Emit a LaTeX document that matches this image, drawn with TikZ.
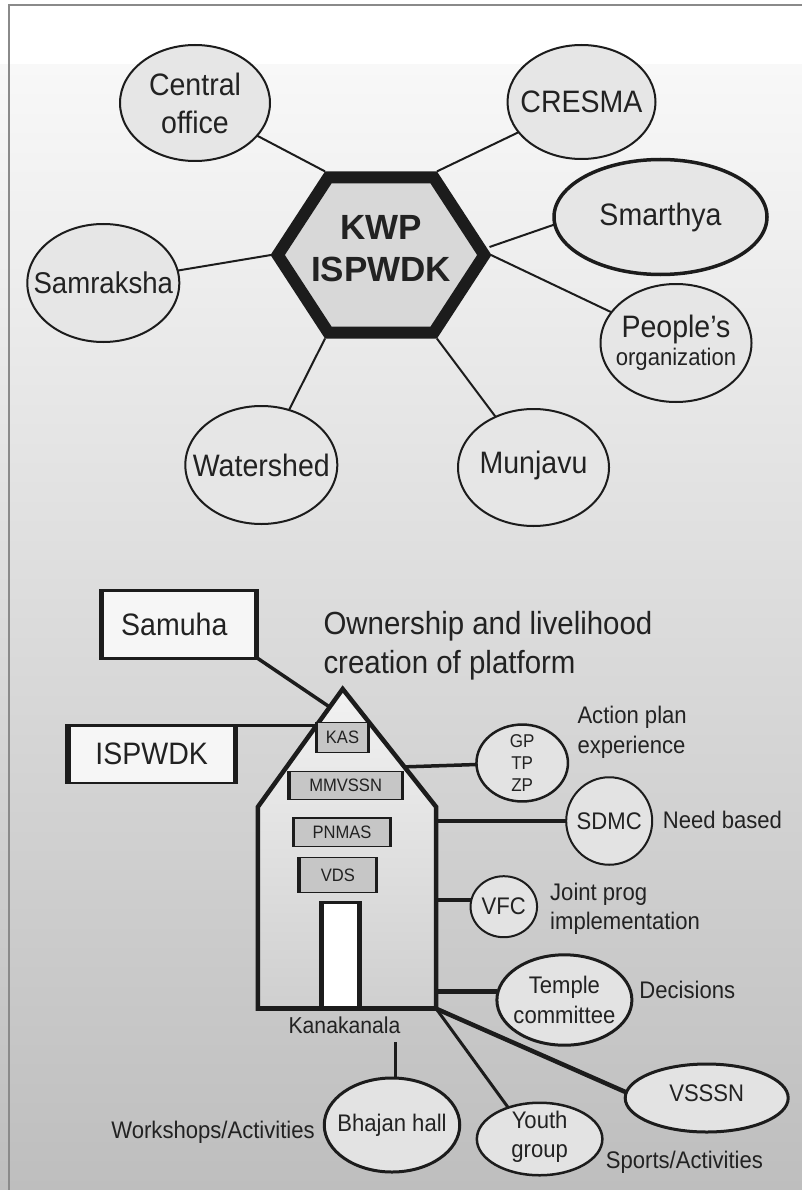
\documentclass[tikz,border=0pt]{standalone}
\usepackage{fontspec}
\setmainfont{Liberation Sans}[FakeStretch=0.92]
\newfontfamily\hexfont{Liberation Sans}
\usetikzlibrary{shapes.geometric,calc}
\newcommand\myfs[2]{\fontsize{#1}{#2}\selectfont}
\definecolor{linec}{HTML}{1C1C1C}
\definecolor{txtc}{HTML}{222222}
\definecolor{bgtop}{HTML}{F8F8F8}
\definecolor{bgbot}{HTML}{BEBEBE}
\definecolor{bubup}{HTML}{E6E6E6}
\definecolor{hexfill}{HTML}{D8D8D8}
\definecolor{bublo}{HTML}{E3E3E3}
\definecolor{boxfill}{HTML}{C6C6C6}
\definecolor{housetop}{HTML}{F2F2F2}
\definecolor{housebot}{HTML}{CFCFCF}
\definecolor{framec}{HTML}{8A8A8A}
\definecolor{tagfill}{HTML}{F6F6F6}
\pgfdeclarelayer{bg}
\pgfsetlayers{bg,main}
\begin{document}
\begin{tikzpicture}[x=1pt,y=-1pt,
  bubU/.style={ellipse, draw=linec, line width=2pt, fill=bubup, inner sep=0pt, outer sep=0pt},
  bubL/.style={ellipse, draw=linec, line width=2.5pt, fill=bublo, inner sep=0pt, outer sep=0pt},
  lblU/.style={inner sep=0pt, align=center, text=txtc, font=\myfs{31}{38}},
  lblL/.style={inner sep=0pt, align=center, text=txtc, font=\myfs{24}{29}},
  note/.style={inner sep=0pt, align=left, text=txtc, font=\myfs{24}{29}},
  connU/.style={draw=linec, line width=2pt},
  inbox/.style={rectangle, draw=linec, line width=1.5pt, fill=boxfill, inner sep=0pt, outer sep=0pt, text=txtc, font=\myfs{18}{18}},
  tag/.style={rectangle, draw=linec, line width=2.5pt, fill=tagfill, inner sep=0pt, outer sep=0pt, text=txtc, font=\myfs{31}{31}},
  side/.style={draw=linec, line width=#1},
  side/.default=5pt]
\useasboundingbox (0,0) rectangle (802,1190);
% background
\begin{pgfonlayer}{bg}
\fill[white] (0,0) rectangle (802,65);
\shade[top color=bgtop, bottom color=bgbot] (0,65) rectangle (802,1190);
\draw[framec, line width=2pt] (9,1195) -- (9,5) -- (806,5);
\end{pgfonlayer}
% coordinates
\coordinate (hTL) at (325,171.4);
\coordinate (hTR) at (437,171.4);
\coordinate (hR) at (491,255);
\coordinate (hRs) at (489.5,247);
\coordinate (hBR) at (437,338.6);
\coordinate (hBL) at (325,338.6);
\coordinate (hL) at (271,255);
\coordinate (hA) at (342.7,689);
\coordinate (hER) at (436.2,807);
\coordinate (hFR) at (436.2,1008.7);
\coordinate (hFL) at (257.8,1008.7);
\coordinate (hEL) at (257.8,807);
\coordinate (rS) at ($(hA)!0.153!(hEL)$);
\coordinate (rI) at (316.5,725.25);
\coordinate (rG) at ($(hA)!0.66!(hER)$);
\coordinate (wV) at (436.2,900);
\coordinate (wT) at (436.2,991.7);
\coordinate (kB) at (395,1042);
% hub
\draw[draw=linec, line width=12pt, line join=miter, fill=hexfill]
  (328.3,177.4) -- (433.7,177.4) -- (484.3,255) -- (433.7,332.6) -- (328.3,332.6) -- (277.7,255) -- cycle;
\node[font=\hexfont\bfseries\myfs{35}{42}, align=center, inner sep=0pt, text=txtc] (hub) at (381,248.5) {KWP\\ISPWDK};
% upper bubbles
\node[bubU, minimum width=150pt, minimum height=116pt, label={[lblU]center:{Central\\office}}] (co) at (195,103) {};
\node[bubU, minimum width=148pt, minimum height=114pt, label={[lblU]center:CRESMA}] (cr) at (581.5,102) {};
\node[bubU, line width=3.5pt, minimum width=213pt, minimum height=115pt, label={[lblU]center:Smarthya}] (sm) at (660.5,217) {};
\node[bubU, minimum width=152pt, minimum height=118pt, label={[lblU, font=\myfs{30}{38}]center:Samraksha}] (sa) at (103.3,283) {};
\node[bubU, minimum width=151pt, minimum height=118pt, label={[lblU, font=\myfs{31}{28.5}]center:{People's\\{\myfs{24}{28.5}organization}}}] (po) at (676,343) {};
\node[bubU, minimum width=152pt, minimum height=118pt, label={[lblU]center:Watershed}] (ws) at (261.3,465) {};
\node[bubU, minimum width=151pt, minimum height=117pt, label={[lblU, yshift=2pt]center:Munjavu}] (mu) at (533.5,467.5) {};
% tags
\node[tag, minimum width=157.5pt, minimum height=68pt] (sam) at (179.3,624.6) {\hspace*{-10pt}Samuha};
\draw[side] ([xshift=1.25pt]sam.north west) -- ([xshift=1.25pt]sam.south west);
\draw[side] ([xshift=-1.25pt]sam.north east) -- ([xshift=-1.25pt]sam.south east);
\node[tag, minimum width=170.8pt, minimum height=57.5pt] (isp) at (151.65,754) {ISPWDK};
\draw[side=5.5pt] ([xshift=1.5pt]isp.north west) -- ([xshift=1.5pt]isp.south west);
\draw[side=5.5pt] ([xshift=-1.5pt]isp.north east) -- ([xshift=-1.5pt]isp.south east);
\node[note, font=\myfs{32}{39}, anchor=north west] (own) at (323.3,611.6) {Ownership and livelihood\\creation of platform};
% house
\path[draw=linec, line width=4.5pt, line join=miter, top color=housetop, bottom color=housebot]
  (hA) -- (hER) -- (hFR) -- (hFL) -- (hEL) -- cycle;
\node[inbox, minimum width=53.5pt, minimum height=30.1pt] (kas) at (342.5,737.5) {KAS};
\node[inbox, minimum width=115.2pt, minimum height=27.8pt] (mmv) at (345.65,785.35) {MMVSSN};
\node[inbox, minimum width=99.1pt, minimum height=28.5pt] (pnm) at (342,832.3) {PNMAS};
\node[inbox, minimum width=79.5pt, minimum height=35.1pt] (vds) at (337.8,875) {VDS};
\foreach \b in {kas,mmv,pnm,vds}{
  \draw[side=3.2pt] ([xshift=0.85pt]\b.north west) -- ([xshift=0.85pt]\b.south west);
  \draw[side=3.2pt] ([xshift=-0.85pt]\b.north east) -- ([xshift=-0.85pt]\b.south east);
}
\node[draw=linec, line width=3pt, fill=white, minimum width=39.5pt, minimum height=106pt, inner sep=0pt, outer sep=0pt] (door) at (340.5,955.7) {};
\draw[side=4.5pt] ([xshift=0.75pt]door.north west) -- ([xshift=0.75pt]door.south west);
\draw[side=4.5pt] ([xshift=-0.75pt]door.north east) -- ([xshift=-0.75pt]door.south east);
\draw[linec, line width=4.5pt] (hFL) -- (hFR);
\node[inner sep=0pt, text=txtc, font=\myfs{23}{23}] (kan) at (344.5,1025) {Kanakanala};
% lower bubbles
\node[bubL, minimum width=91.5pt, minimum height=76.9pt, label={[lblL, font=\myfs{18.5}{22}]center:{GP\\TP\\ZP}}] (gp) at (522.2,763) {};
\node[bubL, line width=2pt, minimum width=86pt, minimum height=87.5pt, label={[lblL]center:SDMC}] (sd) at (609.2,821) {};
\node[bubL, line width=2pt, minimum width=66.5pt, minimum height=61pt, label={[lblL]center:VFC}] (vf) at (503.8,906.7) {};
\node[bubL, line width=3pt, minimum width=135pt, minimum height=90.4pt, label={[lblL, font=\myfs{24}{30}]center:{Temple\\committee}}] (tc) at (564.4,1000) {};
\node[bubL, line width=3pt, minimum width=163pt, minimum height=68pt, label={[lblL, yshift=4.5pt]center:VSSSN}] (vs) at (706.7,1098) {};
\node[bubL, minimum width=125.5pt, minimum height=72.5pt, label={[lblL, yshift=2pt]center:{Youth\\group}}] (yg) at (539.6,1139) {};
\node[bubL, line width=3pt, minimum width=135.5pt, minimum height=94pt, label={[lblL]center:Bhajan hall}] (bh) at (392,1125) {};
% notes
\node[note, font=\myfs{24}{30}, anchor=north west] (act) at (577.3,706) {Action plan\\experience};
\node[note, anchor=base west] (need) at (662.7,828.3) {Need based};
\node[note, anchor=north west] (joint) at (550,883.2) {Joint prog\\implementation};
\node[note, anchor=base west] (dec) at (639.2,998.3) {Decisions};
\node[note, anchor=base west] (spo) at (605.7,1168.3) {Sports/Activities};
\node[note, anchor=base west] (wor) at (111.2,1138.3) {Workshops/Activities};
% connectors
\begin{pgfonlayer}{bg}
\draw[connU] (co) -- (hTL);
\draw[connU] (cr) -- (hTR);
\draw[connU] (sm.184) -- (hRs);
\draw[connU] (po) -- (hR);
\draw[connU] (sa) -- (hL);
\draw[connU] (ws) -- (hBL);
\draw[connU] (mu) -- (hBR);
\draw[linec, line width=3.5pt] (sam.south east) -- (rS);
\draw[linec, line width=3pt] (isp.north east) -- (rI);
\draw[linec, line width=3.5pt] (rG) -- (gp);
\draw[linec, line width=4pt] (sd -| hER) -- (sd);
\draw[linec, line width=4.5pt] (wV) -- (vf.west |- wV);
\draw[linec, line width=4.5pt] (wT) -- (tc.west |- wT);
\draw[linec, line width=3pt] (hFR) -- (yg.135);
\draw[linec, line width=4.5pt] (hFR) -- (vs.176);
\draw[linec, line width=3pt] (kB) -- (kB |- bh.north);
\end{pgfonlayer}
\end{tikzpicture}
\end{document}
